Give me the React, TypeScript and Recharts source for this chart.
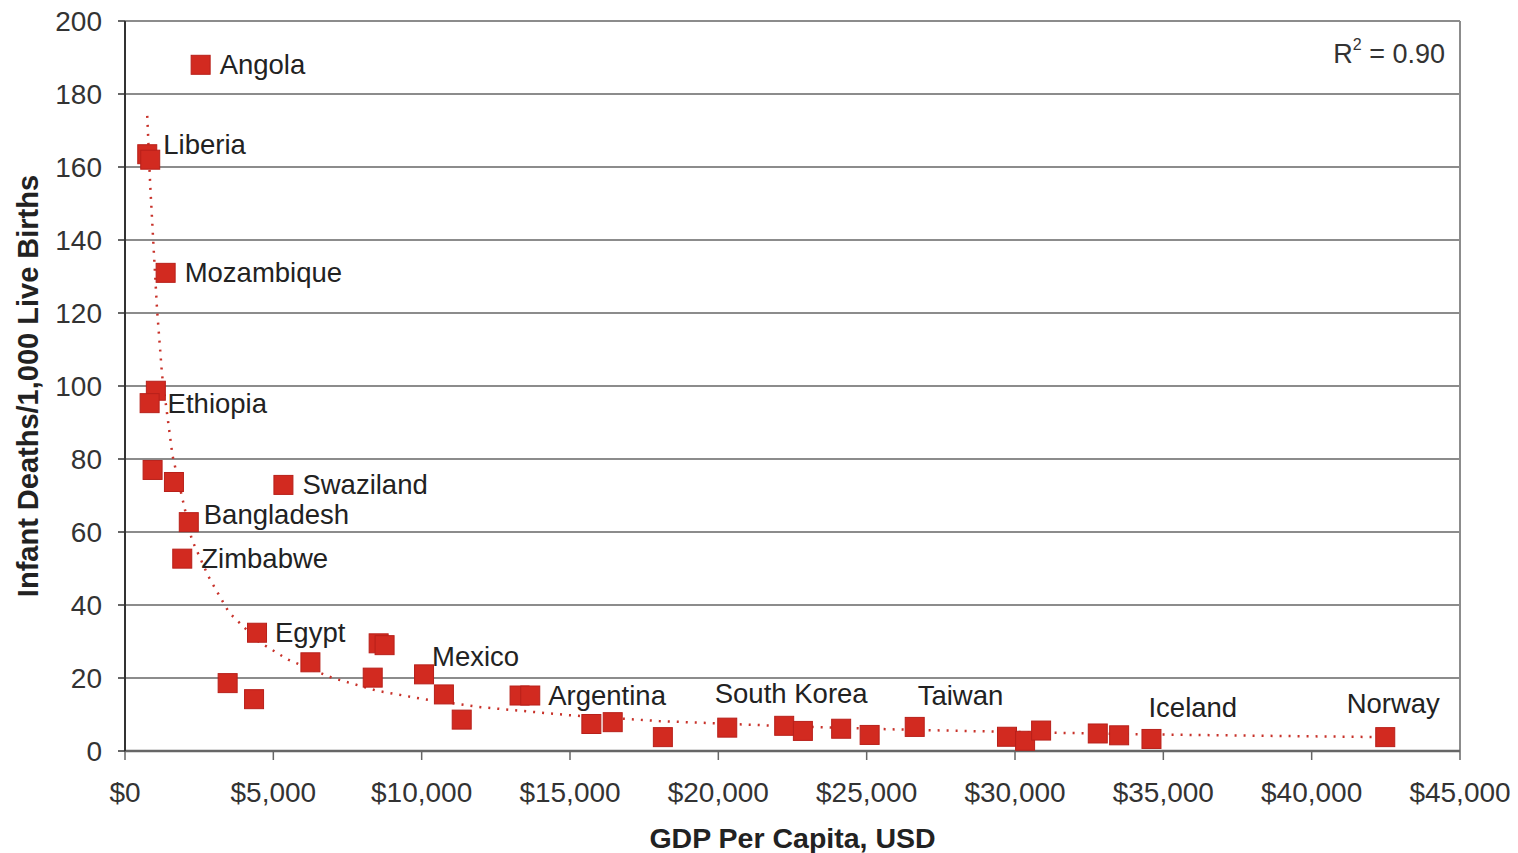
import React from 'react'
import {
  ScatterChart,
  Scatter,
  XAxis,
  YAxis,
  CartesianGrid,
  ReferenceLine,
} from 'recharts'

// GDP per capita (USD) and infant deaths per 1,000 live births
const gdp = [
  2550, 750, 850, 1370, 1040, 830, 930, 1650, 5340, 2150, 1930, 4450, 3460,
  4350, 6250, 8550, 8750, 8350, 10080, 10750, 11350, 13300, 13660, 15720,
  16440, 18130, 20300, 22220, 22850, 24140, 25100, 26620, 29730, 30340,
  30880, 32790, 33510, 34600, 42480,
]
const deaths = [
  188, 163.5, 162, 131, 98.7, 95.3, 77, 73.7, 72.9, 62.7, 52.7, 32.4, 18.6,
  14.2, 24.3, 29.5, 29.0, 20.1, 21.0, 15.5, 8.6, 15.2, 15.2, 7.4, 7.9, 3.8,
  6.4, 6.9, 5.5, 6.1, 4.4, 6.6, 3.9, 2.8, 5.6, 4.8, 4.3, 3.3, 3.8,
]
const country = [
  'Angola', 'Liberia', '', 'Mozambique', '', 'Ethiopia', '', '', 'Swaziland',
  'Bangladesh', 'Zimbabwe', 'Egypt', '', '', '', '', '', '', 'Mexico', '', '',
  '', 'Argentina', '', '', '', '', 'South Korea', '', '', '', 'Taiwan', '', '',
  '', '', '', 'Iceland', 'Norway',
]

// dotted power trend line
const trendGdp = [
  750, 850, 970, 1080, 1250, 1600, 2250, 2800, 3500, 4500, 5500, 7000, 8500,
  10000, 12000, 15000, 18000, 22000, 26000, 30000, 34000, 38000, 42500,
]
const trendDeaths = [
  174, 155, 137, 121, 103, 81, 58, 48, 38, 30, 25, 20, 16.5, 14.3, 12, 9.8,
  8.2, 6.9, 5.9, 5.2, 4.6, 4.2, 3.8,
]

const xTicks = [0, 5000, 10000, 15000, 20000, 25000, 30000, 35000, 40000, 45000]
const yTicks = [0, 20, 40, 60, 80, 100, 120, 140, 160, 180, 200]
const rSquared = '0.90'

const points = gdp.map((g, i) => ({ gdp: g, deaths: deaths[i], country: country[i] }))
const trend = trendGdp.map((g, i) => ({ gdp: g, deaths: trendDeaths[i] }))

const FONT = '"Liberation Sans", Arial, sans-serif'
const RED = '#d22a20'

// where each country name sits relative to its square
const labelOffset: Record<string, [number, number, 'start' | 'middle']> = {
  Angola: [19, 0, 'start'],
  Liberia: [16, -10, 'start'],
  Mozambique: [19, 0, 'start'],
  Ethiopia: [18, 0, 'start'],
  Swaziland: [19, 0, 'start'],
  Bangladesh: [15, -8, 'start'],
  Zimbabwe: [19, 0, 'start'],
  Egypt: [18, 0, 'start'],
  Mexico: [8, -18, 'start'],
  Argentina: [18, 0, 'start'],
  'South Korea': [7, -32, 'middle'],
  Taiwan: [3, -31, 'start'],
  Iceland: [-3, -31, 'start'],
  Norway: [8, -34, 'middle'],
}

const Marker = (props: any) => {
  const { cx, cy, payload } = props
  const off = payload.country ? labelOffset[payload.country] : null
  return (
    <g>
      <rect x={cx - 9.5} y={cy - 9.5} width={19} height={19} fill={RED} stroke="#b8201a" strokeWidth={1} />
      {off && (
        <text
          x={cx + off[0]}
          y={cy + off[1]}
          textAnchor={off[2]}
          dominantBaseline="central"
          fontSize={27.5}
          fontFamily={FONT}
          fill="#222"
        >
          {payload.country}
        </text>
      )}
    </g>
  )
}

const XTitle = (props: any) => {
  const { viewBox } = props
  return (
    <text
      x={viewBox.x + viewBox.width / 2}
      y={viewBox.y + 87}
      textAnchor="middle"
      dominantBaseline="central"
      fontSize={28.5}
      fontWeight="bold"
      fontFamily={FONT}
      fill="#222"
    >
      GDP Per Capita, USD
    </text>
  )
}

const YTitle = (props: any) => {
  const { viewBox } = props
  const x = viewBox.x + 20
  const y = viewBox.y + viewBox.height / 2
  return (
    <text
      x={x}
      y={y}
      transform={`rotate(-90, ${x}, ${y})`}
      textAnchor="middle"
      dominantBaseline="central"
      fontSize={29}
      fontWeight="bold"
      fontFamily={FONT}
      fill="#222"
    >
      Infant Deaths/1,000 Live Births
    </text>
  )
}

const RLabel = (props: any) => {
  const { viewBox } = props
  return (
    <text
      x={viewBox.x - 15}
      y={viewBox.y + 33}
      textAnchor="end"
      dominantBaseline="central"
      fontSize={27}
      fontFamily={FONT}
      fill="#333"
    >
      R<tspan fontSize={16} dy={-10}>2</tspan>
      <tspan dy={10}> = {rSquared}</tspan>
    </text>
  )
}

const App = () => {
  return (
    <div style={{ marginTop: -8 }}>
      <ScatterChart
        width={1510}
        height={853}
        margin={{ top: 21, right: 58, bottom: 0, left: 0 }}
      >
        <CartesianGrid vertical={false} stroke="#8c8c8c" strokeWidth={2} />
        <XAxis
          type="number"
          dataKey="gdp"
          domain={[0, 45000]}
          ticks={xTicks}
          interval={0}
          tickFormatter={(v: number) => '$' + v.toLocaleString('en-US')}
          tick={{ fontSize: 28, fill: '#333', fontFamily: FONT }}
          tickSize={9}
          tickMargin={22}
          axisLine={{ stroke: '#666', strokeWidth: 2.5 }}
          tickLine={{ stroke: '#666', strokeWidth: 1.5 }}
          height={102}
          label={<XTitle />}
        />
        <YAxis
          type="number"
          dataKey="deaths"
          domain={[0, 200]}
          ticks={yTicks}
          interval={0}
          tick={{ fontSize: 28, fill: '#333', fontFamily: FONT }}
          tickSize={7}
          tickMargin={16}
          axisLine={{ stroke: '#333', strokeWidth: 2 }}
          tickLine={{ stroke: '#333', strokeWidth: 1.5 }}
          width={117}
          label={<YTitle />}
        />
        <ReferenceLine x={45000} stroke="#8c8c8c" strokeWidth={2} label={<RLabel />} />
        <Scatter
          data={trend}
          line={{ stroke: '#c8322a', strokeWidth: 2.5, strokeDasharray: '2 7' }}
          shape={() => <g />}
          isAnimationActive={false}
        />
        <Scatter data={points} shape={<Marker />} isAnimationActive={false} />
      </ScatterChart>
    </div>
  )
}

export default App
